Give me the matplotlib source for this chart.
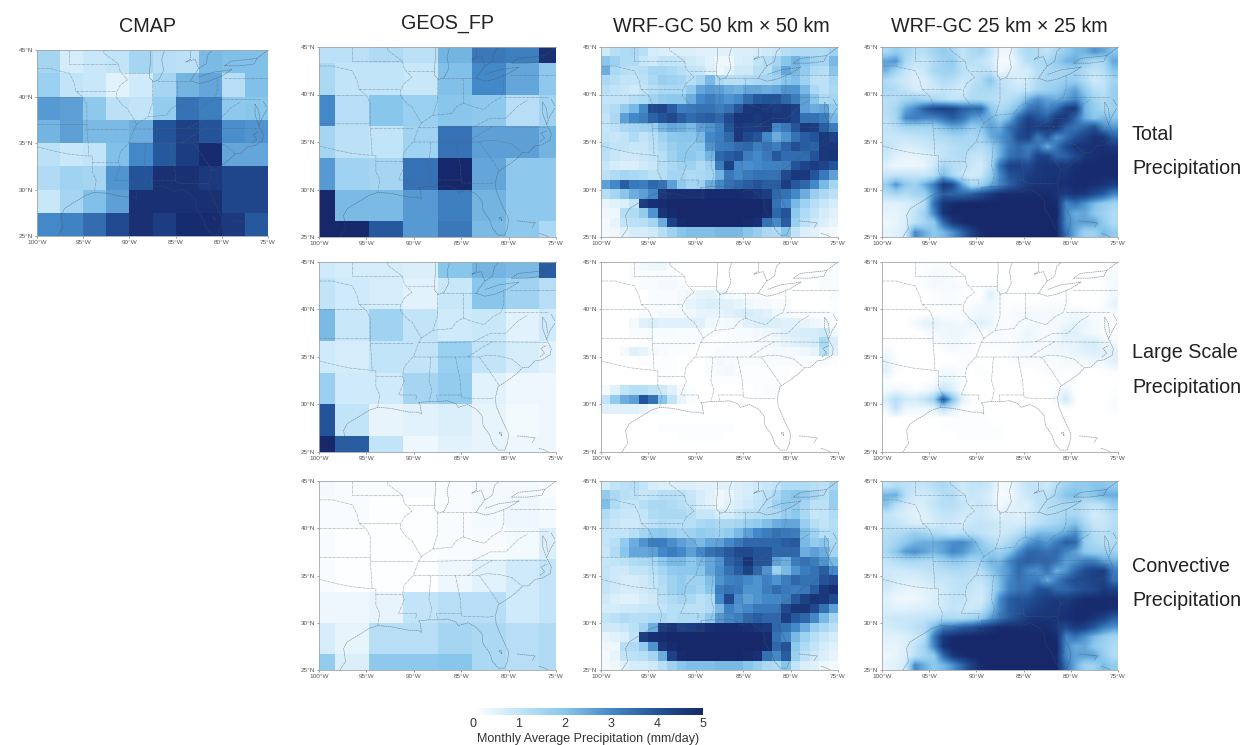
"""
plot.py
Monthly average precipitation: CMAP, GEOS_FP and WRF-GC (50 km, 25 km) panels.
"""

import numpy as np
import matplotlib
matplotlib.use('Agg')
import matplotlib.pyplot as plt
from matplotlib.colors import LinearSegmentedColormap, Normalize
from matplotlib.cm import ScalarMappable

plt.rcParams['font.family'] = ['Liberation Sans', 'DejaVu Sans']

# ── Labels ───────────────────────────────────────────────────────────
TITLES = ['CMAP', 'GEOS_FP', 'WRF-GC 50 km × 50 km', 'WRF-GC 25 km × 25 km']
ROW_LABELS = [['Total', 'Precipitation'],
              ['Large Scale', 'Precipitation'],
              ['Convective', 'Precipitation']]
LON_TICKS = [-100, -95, -90, -85, -80, -75]
LON_LABELS = ['100°W', '95°W', '90°W', '85°W', '80°W', '75°W']
LAT_TICKS = [25, 30, 35, 40, 45]
LAT_LABELS = ['25°N', '30°N', '35°N', '40°N', '45°N']
CBAR_TICKS = [0, 1, 2, 3, 4, 5]
CBAR_LABEL = 'Monthly Average Precipitation (mm/day)'

# ── Gridded values (mm/day), north to south ──────────────────────────
CMAP_LON = [-100, -97.5, -95, -92.5, -90, -87.5, -85, -82.5, -80, -77.5, -75]
CMAP_LAT = [45, 42.5, 40, 37.5, 35, 32.5, 30, 27.5, 25]
cmap_total = [
    [1.5, 0.7, 0.9, 1.0, 1.5, 1.2, 1.1, 2.2, 2.1, 2.1],
    [1.7, 1.0, 0.9, 0.5, 0.8, 1.5, 2.3, 2.5, 1.2, 2.1],
    [2.7, 2.6, 1.9, 1.1, 1.0, 1.8, 3.4, 3.2, 1.9, 2.0],
    [2.3, 2.6, 2.2, 2.2, 2.4, 4.0, 4.4, 4.0, 2.9, 2.8],
    [1.1, 0.9, 1.0, 2.1, 3.0, 3.9, 4.5, 4.9, 2.5, 2.5],
    [1.3, 1.6, 1.5, 2.8, 4.0, 4.8, 4.8, 4.6, 4.3, 4.3],
    [0.9, 1.5, 2.1, 2.6, 4.8, 4.8, 4.8, 4.8, 4.3, 4.3],
    [3.0, 3.1, 3.5, 4.2, 4.8, 4.5, 4.9, 4.9, 4.6, 3.9],
]

GEOS_LON = [-100, -98.3, -94.7, -91.1, -87.5, -83.9, -80.3, -76.8, -75]
GEOS_LAT = [45, 43.3, 40, 36.7, 33.3, 30, 26.7, 25]
geos_total = [
    [1.1, 1.1, 1.3, 1.1, 2.3, 3.3, 3.2, 4.8],
    [1.4, 1.0, 1.0, 0.9, 2.1, 3.0, 2.5, 1.9],
    [3.0, 1.2, 2.0, 1.7, 2.0, 1.9, 1.2, 1.6],
    [1.5, 1.1, 1.0, 1.6, 3.4, 2.6, 2.6, 2.3],
    [2.7, 1.6, 1.5, 3.4, 5.0, 2.5, 1.9, 1.9],
    [5.0, 2.2, 2.2, 2.7, 3.2, 2.3, 1.9, 1.9],
    [5.0, 5.0, 3.9, 2.7, 3.3, 2.2, 1.9, 1.4],
]
geos_large = [
    [0.8, 0.7, 0.7, 0.6, 2.0, 2.3, 2.2, 3.8],
    [1.0, 0.8, 0.7, 0.5, 0.9, 2.0, 1.6, 1.2],
    [2.2, 0.9, 1.6, 1.0, 0.8, 0.9, 0.5, 0.8],
    [0.8, 0.7, 1.0, 1.0, 1.7, 1.0, 0.7, 0.5],
    [1.7, 0.8, 0.8, 1.5, 1.8, 0.5, 0.3, 0.3],
    [4.0, 1.0, 0.4, 0.5, 0.6, 0.4, 0.2, 0.3],
    [5.0, 3.8, 1.0, 0.3, 0.5, 0.4, 0.3, 0.3],
]
geos_conv = [
    [0.2, 0.1, 0.1, 0.1, 0.1, 0.2, 0.2, 0.1],
    [0.1, 0.1, 0.05, 0.05, 0.1, 0.2, 0.3, 0.2],
    [0.1, 0.05, 0.05, 0.05, 0.1, 0.15, 0.2, 0.6],
    [0.1, 0.05, 0.05, 0.05, 0.3, 0.5, 0.8, 1.0],
    [0.3, 0.3, 0.4, 1.0, 1.2, 1.2, 0.8, 1.0],
    [0.7, 0.4, 1.2, 1.2, 1.5, 1.4, 1.2, 1.3],
    [1.8, 0.6, 1.9, 1.9, 2.0, 1.4, 1.2, 1.3],
]

# WRF-GC read on a 1 degree mesh: 25 columns, 20 rows
wrf50_total = [
    [.8, 1.2, 1.3, 1.4, 1.2, .7, .6, .6, .6, .6, .5, .5, .5, .5, .6, .6, .7, .8, .9, 1.2, 1.3, 1.3, 1.3, 1.3, 1.6],
    [2.0, 1.6, 1.3, 1.3, .9, .8, 1.0, 1.0, .9, .8, .7, .5, .3, .3, .6, .7, 1.0, 1.2, 1.5, 2.0, 2.3, 2.0, 1.6, 1.5, 2.2],
    [2.4, 1.4, 1.2, 1.1, 1.2, 1.5, 1.5, 1.4, 1.2, 1.0, .9, .6, .3, .5, .8, .8, 1.2, 1.2, 1.8, 2.5, 2.2, 1.8, 1.3, 1.2, 2.0],
    [1.4, 1.2, 1.0, 1.0, 1.1, 1.4, 1.7, 1.6, 1.5, 1.2, 1.5, 2.2, 1.4, 1.2, 1.2, 1.3, 1.4, 1.5, 1.6, 2.0, 2.1, 1.6, 1.1, 1.1, 1.5],
    [1.2, 1.0, .9, .8, 1.0, 1.2, 1.4, 1.4, 1.4, 1.8, 2.5, 2.7, 2.6, 2.4, 2.3, 2.5, 2.5, 2.4, 2.5, 2.8, 2.8, 2.2, 1.4, 1.1, 1.4],
    [1.0, 1.0, 1.0, 1.2, 1.3, 1.6, 1.8, 1.9, 1.9, 2.4, 3.0, 3.2, 3.0, 2.8, 3.0, 3.5, 3.9, 4.0, 4.0, 3.6, 3.2, 2.6, 2.0, 1.4, 1.5],
    [1.1, 1.3, 1.8, 2.2, 3.0, 4.2, 4.3, 3.8, 3.2, 3.3, 3.4, 3.4, 3.2, 3.4, 4.0, 4.6, 4.7, 4.6, 4.5, 4.6, 4.4, 2.6, 2.4, 2.5, 1.8],
    [1.0, 1.4, 2.6, 3.0, 3.2, 3.7, 4.0, 4.2, 3.8, 3.5, 3.7, 3.8, 3.6, 4.2, 4.7, 4.7, 4.6, 4.7, 4.6, 4.6, 4.3, 3.4, 3.4, 3.2, 2.2],
    [.9, 1.1, 1.4, 1.5, 1.6, 1.7, 2.3, 2.5, 2.4, 2.2, 2.6, 2.8, 3.1, 4.0, 4.6, 4.5, 4.5, 4.6, 3.0, 3.3, 4.0, 4.6, 4.5, 3.8, 3.2],
    [1.0, .9, 1.0, 1.3, 1.0, 1.2, 1.6, 1.9, 2.0, 2.0, 2.2, 3.0, 3.2, 3.6, 4.6, 4.2, 4.0, 3.0, 2.4, 2.8, 3.4, 3.8, 4.0, 4.6, 4.4],
    [1.2, 1.0, 1.0, .9, .9, 1.1, 1.4, 1.7, 1.9, 1.8, 1.9, 2.8, 3.2, 3.3, 3.5, 3.6, 3.2, 3.4, 3.2, 3.7, 4.1, 3.8, 3.7, 4.6, 4.6],
    [1.1, .9, .8, .8, .9, 1.0, 1.2, 1.6, 1.9, 1.9, 1.7, 2.3, 3.6, 3.8, 4.0, 3.2, 3.0, 3.3, 3.9, 3.5, 3.5, 3.5, 4.0, 4.6, 4.7],
    [.9, .7, .6, .6, .8, .9, 1.2, 1.4, 1.6, 1.6, 1.3, 1.6, 3.2, 4.4, 3.0, 2.9, 3.0, 3.1, 3.1, 3.2, 4.0, 4.3, 4.5, 4.3, 4.0],
    [1.1, 1.3, 1.5, 1.4, 1.3, 1.1, 1.2, 1.5, 1.5, 1.3, 1.4, 1.5, 2.3, 3.3, 3.0, 3.3, 3.4, 3.4, 3.4, 4.2, 4.6, 4.6, 4.0, 3.3, 2.6],
    [2.6, 3.0, 3.8, 3.3, 3.2, 3.6, 3.4, 2.6, 1.8, 1.5, 1.6, 2.4, 3.0, 3.4, 3.6, 3.8, 4.0, 3.8, 3.8, 4.5, 3.9, 3.6, 3.0, 2.2, 1.5],
    [1.2, 1.5, 2.0, 2.4, 2.6, 3.0, 4.6, 4.8, 4.8, 4.8, 4.8, 4.9, 4.9, 4.9, 4.9, 4.8, 4.7, 4.5, 3.6, 3.4, 3.0, 2.4, 1.7, 1.4, 1.1],
    [.4, .5, .6, 1.0, 4.5, 4.8, 4.9, 5, 5, 5, 5, 5, 5, 5, 5, 5, 5, 4.9, 3.4, 3.0, 2.2, 1.6, 1.2, .9, .7],
    [.3, .3, 1.2, 1.3, 1.8, 2.8, 4.7, 4.9, 5, 5, 5, 5, 5, 5, 5, 5, 5, 4.9, 3.6, 4.0, 1.9, 1.3, 1.0, .7, .5],
    [.2, .4, 1.0, 1.1, 1.2, 1.5, 2.4, 4.4, 4.9, 5, 5, 5, 5, 5, 5, 4.9, 4.8, 3.4, 3.0, 3.8, 1.7, 1.1, .8, .6, .4],
    [.2, .3, .5, .7, .7, .8, 1.2, 1.6, 2.0, 2.1, 2.1, 2.1, 2.2, 2.2, 2.2, 2.0, 1.7, 1.4, 1.3, 2.0, 1.0, .6, .5, .3, .2],
]
wrf50_conv = [
    [.7, 1.0, 1.1, 1.2, 1.0, .7, .6, .6, .6, .6, .5, .5, .5, .5, .6, .7, .8, .9, 1.0, 1.3, 1.3, 1.3, 1.2, 1.1, 1.5],
    [1.8, 1.4, 1.2, 1.1, .9, 1.0, 1.2, 1.2, 1.1, .9, .7, .5, .3, .4, .6, .7, .9, 1.1, 1.4, 1.8, 2.0, 1.8, 1.5, 1.2, 1.7],
    [2.1, 1.3, 1.0, 1.0, 1.2, 1.4, 1.4, 1.3, 1.2, 1.0, .7, .5, .3, .5, .7, .8, 1.0, 1.2, 1.6, 1.9, 1.8, 1.5, 1.1, 1.1, 1.7],
    [1.3, 1.0, .9, .9, 1.0, 1.3, 1.4, 1.4, 1.4, 1.2, .9, .9, .7, .7, .9, 1.1, 1.2, 1.3, 1.4, 1.7, 1.9, 1.4, .9, 1.0, 1.3],
    [1.1, .9, .8, .8, .9, 1.1, 1.3, 1.2, 1.2, 1.2, 1.4, 1.5, 1.4, 1.4, 1.5, 1.7, 1.8, 2.1, 2.4, 2.5, 2.5, 1.7, 1.2, 1.0, 1.2],
    [1.0, 1.0, 1.0, 1.2, 1.5, 1.8, 1.9, 1.7, 1.5, 1.6, 1.8, 1.7, 1.6, 1.8, 2.2, 2.6, 3.0, 3.2, 3.4, 3.3, 3.2, 2.1, 1.6, 1.2, 1.3],
    [1.0, 1.2, 1.8, 2.4, 2.8, 3.2, 3.2, 2.9, 2.6, 2.4, 2.2, 2.5, 2.6, 3.0, 3.3, 3.6, 3.6, 3.6, 3.6, 3.8, 3.9, 2.2, 1.8, 2.0, 1.4],
    [.9, 1.3, 2.0, 2.5, 2.5, 2.6, 3.0, 3.2, 3.0, 2.6, 3.0, 3.4, 3.6, 3.9, 4.2, 4.2, 4.0, 4.0, 3.6, 3.6, 3.6, 2.4, 2.6, 2.4, 1.5],
    [.9, 1.0, 1.1, 1.3, 1.4, 1.5, 1.9, 2.2, 2.2, 1.9, 2.2, 2.5, 2.8, 3.7, 4.0, 4.7, 4.0, 4.0, 2.6, 2.4, 3.2, 3.4, 3.2, 2.8, 2.2],
    [1.0, .8, .8, 1.0, 1.0, 1.2, 1.5, 1.8, 1.9, 1.9, 2.0, 2.5, 2.9, 3.4, 3.8, 4.4, 3.6, 2.8, 1.6, 2.2, 2.8, 3.2, 3.4, 3.8, 3.0],
    [1.0, .8, .7, .7, .8, 1.0, 1.3, 1.6, 1.8, 1.6, 1.6, 2.1, 2.8, 3.1, 3.2, 3.0, 2.8, 3.1, 2.8, 3.2, 3.6, 3.4, 3.4, 4.0, 4.2],
    [1.0, .8, .7, .7, .8, .9, 1.2, 1.6, 1.8, 1.7, 1.5, 2.0, 3.2, 3.4, 3.3, 2.8, 2.8, 3.2, 3.5, 3.3, 3.2, 3.3, 3.8, 4.6, 4.8],
    [.8, .6, .5, .5, .7, .8, 1.1, 1.3, 1.5, 1.4, 1.1, 1.3, 3.0, 4.2, 2.9, 2.6, 2.8, 3.0, 3.0, 3.2, 3.9, 4.4, 4.7, 4.6, 4.2],
    [.7, .7, .8, .8, .9, .9, 1.0, 1.2, 1.2, 1.1, 1.1, 1.3, 2.2, 3.1, 2.8, 3.0, 3.3, 3.3, 3.3, 4.2, 4.7, 4.7, 4.2, 3.4, 2.6],
    [1.0, 1.1, 1.3, 1.2, 1.2, 1.3, 1.4, 1.2, 1.3, 1.3, 1.4, 1.9, 2.7, 3.0, 3.2, 3.6, 3.8, 3.6, 3.6, 4.5, 3.9, 3.6, 3.0, 2.2, 1.5],
    [.8, .8, .9, 1.1, 1.6, 2.4, 4.5, 4.7, 4.4, 4.5, 4.6, 4.8, 4.9, 4.9, 4.9, 4.8, 4.7, 4.6, 3.6, 3.4, 3.0, 2.4, 1.7, 1.4, 1.1],
    [.4, .5, .6, 1.0, 4.5, 4.8, 4.9, 5, 5, 5, 5, 5, 5, 5, 5, 5, 5, 4.9, 3.4, 3.0, 2.2, 1.6, 1.2, .9, .7],
    [.3, .3, 1.2, 1.3, 1.8, 2.8, 4.7, 4.9, 5, 5, 5, 5, 5, 5, 5, 5, 5, 4.9, 3.6, 4.0, 1.9, 1.3, 1.0, .7, .5],
    [.2, .4, 1.0, 1.1, 1.2, 1.5, 2.4, 4.4, 4.9, 5, 5, 5, 5, 5, 5, 4.9, 4.8, 3.4, 3.0, 3.8, 1.7, 1.1, .8, .6, .4],
    [.2, .3, .5, .7, .7, .8, 1.2, 1.6, 2.0, 2.1, 2.1, 2.1, 2.2, 2.2, 2.2, 2.0, 1.7, 1.4, 1.3, 2.0, 1.0, .6, .5, .3, .2],
]
wrf50_large = [
    [0, 0, 0, .1, .2, .3, .3, .1, 0, 0, 0, 0, 0, 0, 0, 0, 0, 0, 0, 0, 0, 0, 0, 0, .1],
    [0, 0, 0, .1, .1, .1, .1, .1, 0, 0, 0, 0, 0, 0, 0, 0, 0, 0, 0, 0, 0, 0, .1, .1, .1],
    [0, 0, 0, 0, .1, .1, .2, .2, .1, 0, 0, 0, 0, 0, 0, 0, 0, 0, 0, 0, 0, 0, 0, .1, .1],
    [0, 0, 0, 0, 0, .1, .1, .1, .2, .3, .4, .45, .35, .2, .15, .1, .1, .1, 0, 0, 0, 0, 0, 0, .1],
    [0, 0, 0, 0, 0, .1, .1, .1, .2, .4, .5, .6, .55, .5, .4, .3, .2, .2, .1, .1, 0, 0, 0, 0, .05],
    [0, 0, 0, 0, .1, .1, .2, .2, .2, .3, .4, .4, .4, .5, .6, .7, .6, .5, .3, .2, .1, .1, .05, .1, .1],
    [0, 0, 0, .2, .5, .6, .5, .5, .5, .5, .5, .3, .15, .2, .3, .5, .6, .6, .6, .5, .5, .4, .3, .2, .1],
    [0, 0, 0, .1, .1, .15, .15, .15, .1, .1, .1, .1, .1, .1, .15, .15, .2, .3, .4, .5, .6, .7, .7, .8, .3],
    [0, 0, 0, 0, .05, .1, .1, .1, .1, .1, .1, .05, .05, .1, .15, .15, .15, .2, .3, .4, .5, .6, .7, 1.4, .6],
    [0, 0, .2, .5, .4, .2, .1, .05, .05, .05, 0, .05, .1, .1, .1, .1, .1, .1, .2, .2, .2, .3, .4, 1.2, .5],
    [0, 0, 0, 0, .05, .05, .05, .05, 0, 0, 0, .1, .2, .15, .1, .1, .1, .1, .1, .1, .1, .1, .1, .1, .05],
    [0, 0, 0, 0, 0, 0, .05, .05, 0, 0, 0, .1, .15, .2, .1, .05, .05, .05, .05, .05, 0, 0, 0, 0, 0],
    [0, 0, 0, 0, 0, 0, .05, .05, 0, 0, 0, .05, .05, .05, .05, .05, .05, .05, .05, 0, 0, 0, 0, 0, 0],
    [.2, .5, 1.0, 1.2, 1.2, 1.0, .8, .5, .2, .05, 0, 0, 0, 0, 0, 0, .05, .1, .1, 0, 0, 0, 0, 0, 0],
    [1.0, 1.8, 2.4, 2.6, 4.0, 3.4, 2.0, 1.0, .4, .1, 0, 0, 0, 0, 0, 0, 0, 0, 0, 0, 0, 0, 0, 0, 0],
    [.5, .5, .5, .5, .4, .2, .05, 0, 0, 0, 0, 0, 0, 0, 0, 0, 0, 0, 0, 0, 0, 0, 0, 0, 0],
    [0, 0, 0, 0, 0, 0, 0, 0, 0, 0, 0, 0, 0, 0, 0, 0, 0, 0, 0, 0, 0, 0, 0, 0, 0],
    [0, 0, 0, 0, 0, 0, .05, .05, .05, .05, .05, .05, .05, .05, 0, 0, 0, 0, 0, 0, 0, 0, 0, 0, 0],
    [0, 0, 0, 0, 0, 0, 0, 0, .05, .05, .05, .05, .05, 0, 0, 0, 0, 0, 0, 0, 0, 0, 0, 0, 0],
    [0, 0, 0, 0, 0, 0, 0, 0, 0, 0, 0, 0, 0, 0, 0, 0, 0, 0, 0, 0, 0, 0, 0, 0, 0],
]
wrf25_total = [
    [1.4, 1.8, 1.5, 1.2, 1.2, 1.5, 1.8, 1.5, 1.0, 1.3, 1.5, 1.0, .3, .3, 1.0, 1.4, 1.2, 1.0, 1.4, 1.8, 2.2, 2.3, 2.8, 2.5, 2.0],
    [2.6, 2.8, 1.4, 1.0, .9, 1.3, 1.6, 1.8, 1.0, 1.2, 1.0, .8, .2, .2, .7, 1.2, 1.4, 1.4, 1.8, 2.3, 2.4, 1.8, 1.3, 1.5, 2.5],
    [2.3, 1.5, 1.0, .7, .9, 1.4, 1.6, 1.6, 1.2, .9, 1.1, 1.0, .3, .5, .7, .7, 1.2, 1.4, 1.5, 1.5, 1.7, 1.3, 1.0, 1.2, 2.0],
    [1.3, 1.0, .8, .6, .6, 1.0, 1.3, 1.2, .9, 1.0, 1.3, 2.0, 1.0, .9, .6, .8, 1.3, 1.5, 1.5, 1.7, 1.7, 1.3, .8, 1.0, 1.5],
    [1.4, 1.3, 1.0, .7, .7, .8, 1.0, .9, .7, 1.2, 1.4, 1.4, 1.2, 1.0, .9, 1.0, 1.4, 1.6, 1.8, 2.2, 2.6, 1.8, 1.2, 1.1, 1.7],
    [1.2, 1.2, 1.5, 1.7, 1.5, 1.4, 1.2, 1.0, 1.1, 1.3, 1.3, 1.2, 1.1, 1.2, 1.5, 2.4, 2.9, 2.6, 2.4, 2.6, 3.0, 2.3, 1.6, 1.3, 1.7],
    [1.2, 1.5, 2.5, 3.0, 3.8, 4.3, 4.4, 4.3, 3.8, 3.6, 3.6, 2.0, 1.3, 1.6, 2.3, 3.3, 3.5, 3.0, 3.5, 4.4, 4.6, 2.3, 1.8, 1.4, 1.6],
    [1.1, 1.5, 3.0, 3.2, 3.0, 3.0, 3.4, 3.8, 3.4, 2.7, 2.5, 2.4, 1.8, 2.3, 3.6, 4.4, 4.0, 3.8, 4.6, 4.6, 3.6, 2.4, 2.0, 2.2, 2.0],
    [1.0, 1.2, 1.5, 1.5, 1.5, 1.5, 2.0, 2.4, 2.3, 1.7, 2.0, 2.6, 2.4, 3.4, 4.0, 4.6, 4.5, 4.6, 4.7, 3.6, 3.4, 3.7, 4.2, 3.0, 2.8],
    [.9, .9, .9, 1.0, 1.1, 1.2, 1.3, 1.5, 1.5, 1.4, 1.5, 2.4, 2.8, 3.2, 4.2, 4.4, 3.2, 4.0, 2.8, 3.4, 4.0, 4.4, 4.7, 4.7, 3.8],
    [1.0, .8, .6, .7, .8, 1.0, 1.0, 1.2, 1.3, 1.4, 1.2, 1.6, 2.4, 3.2, 3.6, 3.2, 3.4, 2.4, 3.4, 4.2, 4.7, 4.7, 4.8, 4.8, 4.6],
    [.8, .5, .4, .4, .5, .7, 1.0, 1.2, 1.3, 1.0, .9, 1.4, 2.4, 3.4, 3.6, 3.4, 4.4, 4.4, 3.6, 3.7, 4.2, 4.7, 4.8, 4.9, 4.9],
    [.5, .3, .3, .3, .4, .8, 1.5, 1.2, 1.1, .9, .7, 1.4, 3.4, 4.4, 4.4, 4.2, 4.6, 4.7, 4.7, 4.6, 4.8, 4.9, 4.9, 4.9, 4.9],
    [.9, 1.0, 1.0, 1.0, .9, 1.2, 2.2, 1.4, .9, .7, .9, 1.7, 3.0, 4.0, 4.2, 4.5, 4.6, 4.7, 4.7, 4.7, 4.9, 4.9, 4.9, 4.9, 4.9],
    [1.8, 2.8, 1.9, 1.6, 2.4, 3.2, 4.6, 4.2, 2.6, 1.4, 1.6, 2.4, 3.0, 3.7, 4.2, 4.6, 4.7, 4.7, 4.8, 4.8, 4.9, 4.9, 4.8, 4.7, 4.5],
    [1.2, 1.4, 1.2, 1.5, 1.6, 2.8, 3.8, 3.6, 3.6, 3.8, 4.2, 4.6, 4.9, 4.9, 4.9, 4.9, 4.9, 4.9, 4.7, 4.5, 4.7, 4.6, 4.2, 3.8, 3.0],
    [.5, .5, .6, .8, 1.2, 3.4, 4.7, 4.9, 5, 5, 5, 5, 5, 5, 5, 5, 5, 5, 4.9, 3.0, 3.4, 2.8, 2.2, 1.8, 1.5],
    [.4, .4, .6, 1.0, 1.6, 3.0, 4.7, 5, 5, 5, 5, 5, 5, 5, 5, 5, 5, 5, 5, 3.0, 2.4, 2.5, 1.9, 1.6, 1.3],
    [.3, .4, .6, 1.1, 1.5, 1.8, 3.5, 4.6, 4.9, 5, 5, 5, 5, 5, 5, 5, 5, 5, 4.9, 3.0, 2.6, 2.6, 2.6, 1.8, 1.3],
    [.4, .5, .8, 3.0, 2.4, 1.9, 2.2, 2.8, 3.6, 4.4, 4.9, 5, 5, 5, 5, 5, 5, 5, 5, 3.4, 2.4, 1.6, 1.6, 2.2, 1.8],
]
wrf25_conv = [
    [1.0, 1.2, 1.1, 1.0, 1.0, 1.2, 1.4, 1.1, .8, 1.0, 1.0, .8, .2, .3, .7, 1.0, 1.0, .8, 1.2, 1.6, 1.8, 1.8, 2.0, 2.0, 1.8],
    [2.3, 2.4, 1.2, .8, .7, .9, 1.2, 1.3, .8, .9, .8, .6, .2, .2, .6, .9, 1.1, 1.1, 1.5, 2.0, 2.2, 1.7, 2.0, 2.4, 2.4],
    [2.0, 1.2, .8, .6, .7, 1.0, 1.2, 1.2, 1.0, .8, .9, .7, .2, .4, .6, .6, 1.0, 1.2, 1.3, 1.4, 1.5, 1.2, 1.0, 1.2, 1.8],
    [1.0, .8, .6, .5, .5, .8, 1.0, 1.0, .8, .8, .8, .7, .5, .6, .5, .7, 1.0, 1.2, 1.3, 1.4, 1.4, 1.1, .7, .9, 1.2],
    [1.1, 1.0, .8, .6, .6, .7, .8, .8, .7, .9, 1.0, .9, .8, .7, .7, .8, 1.1, 1.3, 1.5, 1.8, 2.1, 1.4, .9, .9, 1.2],
    [1.2, 1.3, 1.4, 1.7, 1.5, 1.3, 1.2, 1.0, 1.1, 1.2, 1.0, .9, .8, .9, 1.2, 1.7, 2.2, 2.2, 2.2, 2.5, 2.9, 1.9, 1.2, 1.1, 1.3],
    [1.3, 1.5, 1.9, 2.3, 2.4, 2.4, 2.6, 2.9, 3.0, 2.6, 1.8, 1.3, 1.1, 1.4, 1.9, 2.7, 3.0, 2.7, 3.2, 3.8, 3.6, 1.7, 1.4, 1.2, 1.3],
    [1.4, 2.0, 2.7, 2.9, 2.6, 2.3, 2.6, 3.0, 2.8, 2.3, 2.0, 1.8, 1.6, 2.0, 2.9, 3.6, 3.6, 3.4, 3.6, 3.0, 2.6, 1.9, 1.7, 1.7, 1.6],
    [1.0, 1.2, 1.4, 1.4, 1.3, 1.3, 1.6, 1.9, 1.8, 1.4, 1.7, 2.3, 2.2, 3.0, 3.6, 3.8, 3.6, 3.7, 3.4, 2.6, 2.8, 3.2, 3.2, 2.6, 2.4],
    [.8, .8, .8, .9, 1.0, 1.1, 1.2, 1.3, 1.3, 1.2, 1.2, 1.9, 2.4, 2.8, 3.6, 3.0, 2.8, 3.4, 2.4, 2.8, 3.6, 4.2, 4.4, 4.5, 3.2],
    [.9, .7, .6, .6, .7, .9, .9, 1.0, 1.1, 1.1, 1.0, 1.4, 2.2, 3.0, 3.4, 3.2, 3.2, 2.4, 3.2, 3.8, 4.2, 4.2, 4.4, 4.4, 3.4],
    [.7, .5, .4, .4, .5, .6, .8, 1.0, 1.1, .9, .8, 1.3, 2.2, 3.1, 3.4, 3.4, 4.0, 4.1, 3.6, 3.6, 3.9, 4.1, 4.2, 4.6, 4.4],
    [.5, .3, .3, .3, .4, .6, .8, 1.0, 1.0, .8, .7, 1.4, 3.0, 3.8, 4.0, 4.0, 4.3, 4.5, 4.6, 4.5, 4.7, 4.9, 4.9, 4.9, 4.9],
    [.6, .5, .5, .6, .6, .7, .8, 1.0, .9, .8, 1.0, 1.9, 3.0, 3.8, 4.0, 4.3, 4.5, 4.6, 4.6, 4.7, 4.9, 4.9, 4.9, 4.9, 4.8],
    [.8, .9, .9, .9, 1.0, 1.1, 1.3, 1.3, 1.3, 1.5, 1.8, 2.6, 3.3, 3.8, 4.2, 4.6, 4.7, 4.7, 4.7, 4.8, 4.9, 4.9, 4.7, 4.4, 3.8],
    [.7, .8, .9, 1.1, 1.3, 2.2, 3.2, 3.4, 3.8, 4.0, 4.4, 4.7, 4.9, 4.9, 4.9, 4.9, 4.9, 4.9, 4.6, 4.2, 4.6, 4.4, 3.9, 3.2, 2.8],
    [.5, .5, .6, .8, 1.2, 3.2, 4.6, 4.9, 5, 5, 5, 5, 5, 5, 5, 5, 5, 5, 4.9, 3.0, 3.4, 2.8, 2.2, 1.8, 1.5],
    [.4, .4, .6, 1.0, 1.6, 3.0, 4.7, 5, 5, 5, 5, 5, 5, 5, 5, 5, 5, 5, 5, 3.0, 2.4, 2.5, 1.9, 1.6, 1.3],
    [.3, .4, .6, 1.1, 1.5, 1.8, 3.5, 4.6, 4.9, 5, 5, 5, 5, 5, 5, 5, 5, 5, 4.9, 3.0, 2.6, 2.6, 2.6, 1.8, 1.3],
    [.4, .5, .8, 3.0, 2.4, 1.9, 2.2, 2.8, 3.6, 4.4, 4.9, 5, 5, 5, 5, 5, 5, 5, 5, 3.4, 2.4, 1.6, 1.6, 2.2, 1.8],
]
wrf25_large = [
    [0, 0, 0, 0, .05, .1, .1, .05, 0, 0, 0, 0, 0, 0, 0, 0, 0, 0, 0, 0, 0, 0, 0, 0, .1],
    [0, 0, 0, 0, .05, .2, .2, .1, 0, 0, 0, 0, 0, 0, 0, 0, 0, 0, 0, 0, 0, 0, 0, .1, .2],
    [0, 0, 0, 0, .1, .2, .2, .2, .1, 0, .05, .05, .05, 0, 0, 0, 0, 0, 0, 0, 0, 0, 0, .05, .2],
    [0, 0, 0, 0, 0, .05, .1, .1, .05, 0, .05, .6, .2, 0, 0, 0, 0, 0, 0, 0, 0, 0, 0, .05, .3],
    [0, 0, 0, 0, 0, .05, .1, .1, .1, .1, .2, .25, .15, .05, .05, .05, .05, .1, .1, .1, 0, 0, 0, .1, .4],
    [0, 0, 0, 0, 0, .05, .05, .05, .1, .2, .3, .25, .1, .1, .2, .25, .2, .2, .2, .2, .3, .2, .1, .1, .1],
    [0, 0, 0, .2, .45, .5, .3, .3, .2, .4, .55, .4, .1, .1, .1, .2, .2, .2, .2, .3, .4, .35, .2, .1, .1],
    [0, 0, 0, 0, .1, .2, .25, .3, .3, .2, .1, .1, .1, .1, .2, .35, .2, .1, .2, .6, .5, .3, .2, .1, .1],
    [0, 0, 0, 0, 0, .1, .2, .3, .2, .1, .05, .1, .1, .1, .2, .3, .2, .2, .3, .4, .4, .6, .7, .3, .2],
    [.2, .05, 0, 0, 0, 0, .05, .1, .1, .1, .05, 0, .05, .1, .2, .2, .2, .2, .3, .3, .4, .5, .6, .5, .5],
    [.4, .1, 0, 0, 0, 0, 0, 0, .05, .05, 0, 0, 0, .05, .1, .1, .1, .1, .1, .2, .2, .2, .3, .3, .5],
    [.5, .1, 0, 0, 0, 0, .2, .2, .1, 0, .1, 0, 0, 0, 0, 0, .05, .1, .1, .1, .1, 0, 0, .05, .1],
    [.1, 0, 0, 0, 0, .1, .4, .4, .1, 0, 0, 0, 0, 0, 0, 0, 0, 0, 0, 0, 0, 0, 0, 0, 0],
    [.2, .3, .2, .1, .2, .4, 1.0, .6, .1, 0, 0, 0, 0, 0, 0, 0, 0, 0, .1, .4, 0, 0, 0, 0, .05],
    [.7, 1.2, .8, .7, 1.0, 1.6, 4.0, 2.0, .5, .1, .05, 0, 0, 0, 0, 0, 0, 0, .2, .8, .1, 0, 0, 0, .1],
    [.3, 1.0, .3, .3, .3, .4, 1.0, .6, .1, 0, 0, 0, 0, 0, 0, 0, 0, 0, 0, .05, 0, 0, 0, 0, .1],
    [0, 0, 0, 0, 0, 0, .05, .05, .05, .05, .05, 0, 0, 0, 0, 0, 0, 0, 0, 0, 0, 0, 0, 0, 0],
    [0, 0, 0, 0, 0, 0, .05, .05, .05, .05, .05, .05, .05, 0, 0, 0, 0, 0, 0, 0, 0, 0, 0, 0, 0],
    [0, 0, 0, 0, 0, 0, 0, 0, .05, .05, .05, .05, .05, 0, 0, 0, 0, 0, 0, 0, 0, 0, 0, 0, 0],
    [0, 0, 0, 0, 0, 0, 0, 0, 0, 0, 0, 0, 0, 0, 0, 0, 0, 0, 0, 0, 0, 0, 0, 0, 0],
]

# ── Map outlines (lon, lat) ──────────────────────────────────────────
coast_lines = [
    [(-97.8, 25), (-97.2, 25.9), (-97.4, 27.3), (-97, 28), (-95.5, 28.9), (-94.7, 29.4), (-93.8, 29.7),
     (-92.5, 29.6), (-91.5, 29.4), (-90.5, 29.2), (-89.6, 29.2), (-89.2, 29), (-89.3, 29.9), (-89.5, 30.2),
     (-88.5, 30.3), (-87.5, 30.3), (-86.5, 30.4), (-85.6, 30.1), (-85.3, 29.7), (-84.3, 30), (-83.4, 29.5),
     (-82.8, 28.8), (-82.7, 27.8), (-82, 26.8), (-81.7, 25.9), (-81.1, 25.2), (-80.4, 25.2), (-80.1, 26),
     (-80, 26.9), (-80.6, 28.2), (-81.3, 29.8), (-81.4, 30.7), (-81.1, 31.9), (-80, 32.6), (-79.2, 33.2),
     (-78.5, 33.9), (-77.9, 33.9), (-77.2, 34.6), (-76.5, 34.7), (-75.6, 35.2), (-75.5, 35.9), (-76, 36.9),
     (-75.6, 37.8), (-75.1, 38.6)],
    [(-76, 36.9), (-76.4, 38), (-76.4, 39.2), (-76, 38.5), (-75.9, 37.5)],
    [(-76.7, 35), (-76.2, 35.4), (-76.6, 35.9), (-76, 36.2)],
    [(-75.5, 39.5), (-75.1, 38.8)],
    [(-87.7, 45), (-87.7, 44), (-87.8, 43), (-87.8, 42), (-87.4, 41.6), (-86.8, 41.8), (-86.3, 42.8),
     (-86.5, 44), (-86.2, 45)],
    [(-83.4, 45), (-83.4, 44), (-83.9, 43.7), (-82.9, 44), (-82.5, 43), (-83.1, 42.2), (-83.4, 41.7),
     (-82.5, 41.4), (-81.5, 41.6), (-80, 42.2), (-78.9, 42.9), (-79.5, 42.8), (-81, 42.6), (-82.5, 42.1)],
    [(-82.5, 43), (-81.7, 43.5), (-81.5, 44.5), (-81, 45)],
    [(-79.7, 43.3), (-78, 43.3), (-76.5, 43.5), (-76.2, 44.1), (-77, 44), (-79, 43.8), (-79.7, 43.3)],
    [(-76.2, 44.1), (-75, 45)],
    [(-81, 27), (-80.7, 26.7), (-80.8, 27.1), (-81, 27)],
    [(-79.1, 26.7), (-78.2, 26.6), (-77.2, 26.5), (-77.5, 26)],
    [(-76.8, 25.4), (-76.2, 25.2), (-75.8, 25)],
]
state_lines = [
    [(-96.5, 45), (-96.5, 43.5), (-91.2, 43.5)],
    [(-100, 43), (-98.5, 43), (-97.8, 42.8), (-96.5, 42.5), (-96, 41.5), (-95.8, 40.6), (-95, 39.9), (-94.6, 39.1),
     (-94.6, 36.5), (-94.5, 35.4), (-94.4, 33.6)],
    [(-95.8, 40.6), (-91.5, 40.6)],
    [(-100, 40), (-95.3, 40)],
    [(-100, 37), (-94.6, 37)],
    [(-94.6, 36.5), (-90.1, 36.5)],
    [(-94, 33), (-91.2, 33)],
    [(-100, 34.6), (-98, 34.1), (-96.5, 33.8), (-94.5, 33.6), (-94, 33.6), (-94, 31.9), (-93.6, 31), (-93.8, 29.7)],
    [(-92.7, 45), (-92.8, 44.7), (-91.2, 43.5), (-91, 42.7), (-90.2, 41.8), (-91, 41.2), (-91.4, 40.4), (-91.4, 39.9),
     (-90.7, 39), (-90.2, 38.7), (-89.5, 37.5), (-89.2, 37), (-89.5, 36.5), (-90, 35.1), (-91, 34), (-91.2, 33),
     (-91, 32.5), (-91.6, 31), (-89.7, 31), (-89.8, 30.4)],
    [(-88.2, 35), (-88.4, 32.5), (-88.1, 31.5), (-88.4, 30.3)],
    [(-85.6, 35), (-85.1, 32.5), (-85, 31), (-87.6, 31), (-87.5, 30.4)],
    [(-85, 31), (-84.9, 30.7), (-82.2, 30.6), (-81.5, 30.7)],
    [(-90, 35), (-84.3, 35), (-83.1, 35), (-82.3, 35.2), (-81, 35.1), (-79.7, 34.8), (-78.6, 33.9)],
    [(-89.5, 36.5), (-88, 36.5), (-83.7, 36.6), (-81.7, 36.6), (-75.9, 36.55)],
    [(-83.1, 35), (-82, 33.5), (-81, 32)],
    [(-84.3, 35), (-82.8, 36), (-81.7, 36.6)],
    [(-89.2, 37), (-88, 37.8), (-87, 37.9), (-86, 38), (-85.5, 38.7), (-84.8, 39.1), (-83.7, 38.7), (-82.6, 38.4),
     (-81.7, 39.2), (-80.8, 39.7), (-80.5, 40.6), (-80.5, 42)],
    [(-87.5, 41.7), (-87.5, 39.3), (-88, 37.8)],
    [(-84.8, 41.7), (-84.8, 39.1)],
    [(-87, 41.7), (-83.4, 41.7)],
    [(-80.5, 39.7), (-75.8, 39.7)],
    [(-79.8, 42), (-75, 42)],
    [(-83.7, 36.6), (-81.9, 37.5), (-80.3, 37.5), (-79, 38.8), (-78, 39.4)],
    [(-90.6, 42.5), (-87.8, 42.5)],
]

# ── Styles ───────────────────────────────────────────────────────────
precip_cmap = LinearSegmentedColormap.from_list(
    'precip', ['#ffffff', '#c2e4f8', '#88c6ec', '#4388c8', '#235399', '#16286a'])
norm = Normalize(0, 5)
W, H = 1243, 745
TEXT_COLOR = '#222222'


def axes_px(x0, x1, y0, y1):
    return fig.add_axes([x0 / W, 1 - y1 / H, (x1 - x0) / W, (y1 - y0) / H])


def draw_map(ax):
    for line in state_lines:
        pts = np.array(line)
        ax.plot(pts[:, 0], pts[:, 1], color='#5a6570', lw=0.4, alpha=0.6, ls=(0, (5, 1, 1, 1)))
    for line in coast_lines:
        pts = np.array(line)
        ax.plot(pts[:, 0], pts[:, 1], color='#46505a', lw=0.4, alpha=0.7, ls=(0, (3, 1)))
    ax.set_xlim(-100, -75)
    ax.set_ylim(25, 45)
    ax.set_xticks(LON_TICKS, LON_LABELS)
    ax.set_yticks(LAT_TICKS, LAT_LABELS)
    ax.tick_params(labelsize=4.6, length=1.5, width=0.4, pad=1.5, colors='#555555')
    for side, spine in ax.spines.items():
        spine.set_linewidth(0.6)
        spine.set_edgecolor('#a0a6ac')
    ax.spines['right'].set_visible(False)


def draw_blocks(ax, lons, lats, values):
    ax.pcolormesh(lons, lats, np.array(values), cmap=precip_cmap, norm=norm, shading='flat')
    draw_map(ax)


def draw_mesh(ax, values, interp):
    ax.imshow(np.array(values), cmap=precip_cmap, norm=norm, extent=(-100, -75, 25, 45),
              aspect='auto', interpolation=interp)
    draw_map(ax)


# ── Figure ───────────────────────────────────────────────────────────
fig = plt.figure(figsize=(W / 100, H / 100), dpi=100, facecolor='white')

ax_cmap = axes_px(37, 268, 50, 236)
draw_blocks(ax_cmap, CMAP_LON, CMAP_LAT, cmap_total)

ROWS_PX = [(47, 237), (262, 452), (481, 670)]
geos_panels = [geos_total, geos_large, geos_conv]
wrf50_panels = [wrf50_total, wrf50_large, wrf50_conv]
wrf25_panels = [wrf25_total, wrf25_large, wrf25_conv]

for i, (y0, y1) in enumerate(ROWS_PX):
    draw_blocks(axes_px(319, 556, y0, y1), GEOS_LON, GEOS_LAT, geos_panels[i])
    draw_mesh(axes_px(601, 838, y0, y1), wrf50_panels[i], 'nearest')
    draw_mesh(axes_px(882, 1118, y0, y1), wrf25_panels[i], 'bilinear')

for x, y, title in zip([148, 447, 721.5, 999.5], [32, 29, 32, 32], TITLES):
    fig.text(x / W, 1 - y / H, title, ha='center', va='baseline', fontsize=14.2, color=TEXT_COLOR)

for (y1, y2), lines in zip([(134, 169), (353, 388), (567, 601)], ROW_LABELS):
    fig.text(1132 / W, 1 - y1 / H, lines[0], ha='left', va='center', fontsize=14.2, color=TEXT_COLOR)
    fig.text(1132 / W, 1 - y2 / H, lines[1], ha='left', va='center', fontsize=14.2, color=TEXT_COLOR)

# Colorbar
cax = axes_px(473, 703, 708, 715)
cb = fig.colorbar(ScalarMappable(norm=norm, cmap=precip_cmap), cax=cax, orientation='horizontal')
cb.outline.set_visible(False)
cb.set_ticks(CBAR_TICKS)
cb.ax.tick_params(labelsize=9, length=0, pad=2, labelcolor='#333333')
cb.set_label(CBAR_LABEL, fontsize=9, labelpad=2.5, color='#333333')

fig.savefig('out.png', dpi=100, facecolor='white')
plt.close(fig)
